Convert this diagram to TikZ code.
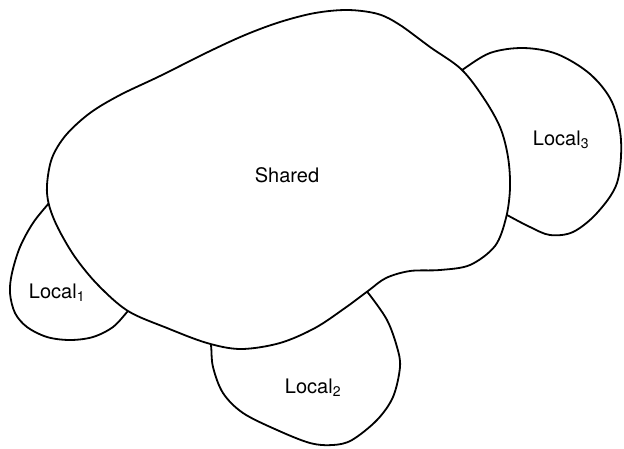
\documentclass[tikz,border=0pt]{standalone}
\usepackage{fontspec}
\setmainfont{TeX Gyre Heros}
\begin{document}
\begin{tikzpicture}[x=1pt,y=-1pt,
  outline/.style={line width=1.8pt, line join=round, line cap=round},
  regiontext/.style={font=\fontsize{20}{24}\selectfont, anchor=base, inner sep=0pt}]
\useasboundingbox (0,0) rectangle (624,448);

% local regions, partly hidden behind the shared region
\draw[outline] plot[smooth, tension=0.55] coordinates {
  (60,190) (49,203) (33,223) (20,247) (12,273) (10,293) (15,313) (27,327)
  (47,337) (70,340) (93,337) (113,327) (128,311) (138,300)};
\draw[outline] plot[smooth, tension=0.55] coordinates {
  (208,330) (211,345) (213,367) (223,393) (243,413) (277,430) (310,443)
  (333,445) (352,440) (377,420) (393,397) (400,367) (397,347) (387,320)
  (369,294) (360,284)};
\draw[outline] plot[smooth, tension=0.55] coordinates {
  (450,78) (462,70) (490,53) (523,48) (557,54) (590,74) (612,102) (621,140)
  (617,183) (597,213) (573,232) (550,235) (530,227) (507,215)
  (495,208)};

% shared region drawn on top
\draw[outline, fill=white] plot[smooth cycle, tension=0.55] coordinates {
  (47,185) (52,158) (66,135) (90,113) (120,95) (160,76) (208,52) (245,35)
  (280,22) (315,13) (348,10) (378,14) (400,25) (430,47) (461,69) (483,97)
  (500,127) (508,157) (510,188) (506,218) (495,246) (470,265) (440,270)
  (410,271) (386,278) (368,291) (345,308) (315,328) (280,343) (241,349)
  (207,343) (167,328) (128,311) (98,285) (75,257) (58,228) (49,205)};

\node[regiontext] (shared) at (287,182) {Shared};
\node[regiontext] (local1) at (57,298) {Local\textsubscript{1}};
\node[regiontext] (local2) at (313,393) {Local\textsubscript{2}};
\node[regiontext] (local3) at (561,145) {Local\textsubscript{3}};
\end{tikzpicture}
\end{document}
